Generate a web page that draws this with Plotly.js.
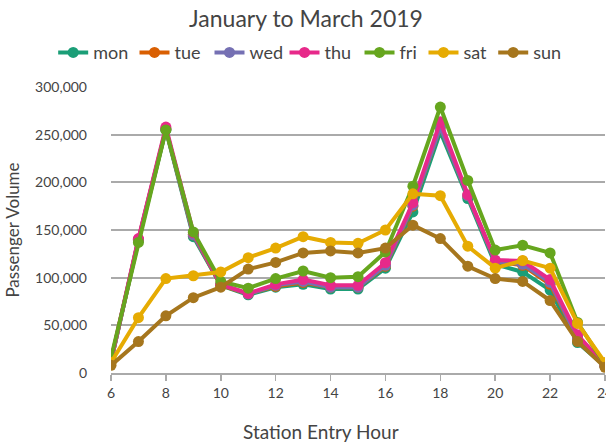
<!DOCTYPE html>
<html>
<head>
<meta charset="utf-8">
<script src="https://cdn.plot.ly/plotly-3.0.1.min.js"></script>
<style>html,body{margin:0;padding:0;background:#fff;}#chart{width:606px;height:444px;}</style>
</head>
<body>
<div id="chart"></div>
<script>
const hours = [6,7,8,9,10,11,12,13,14,15,16,17,18,19,20,21,22,23,24];
const mon = [12000,139000,255000,143000,92000,82000,90000,93000,88000,88000,110000,169000,253000,183000,114000,106000,87000,32000,7000];
const tue = [12000,140000,256000,145000,92000,83000,91000,95000,90000,90000,112000,175000,258000,186000,117000,113000,93000,36000,7000];
const wed = [12000,140000,256000,145000,93000,83000,92000,96000,90000,90000,113000,176000,258000,186000,117000,114000,95000,37000,7000];
const thu = [13000,141000,258000,147000,93000,83500,93000,98000,92000,92000,115700,178600,263600,187000,118500,117500,98000,40000,8000];
const fri = [16000,137000,255000,148000,96000,89000,99000,107000,100000,101000,127000,196000,279000,202000,129000,134000,126000,53000,9000];
const sat = [11000,58000,99000,102000,106000,121000,131000,143000,137000,136000,150000,188000,186000,133000,110000,118000,110000,52000,11000];
const sun = [8000,33000,60000,79000,90000,109000,116000,126000,128000,126000,131000,155000,141000,112000,99000,96000,76000,33000,6000];
const names = ['mon','tue','wed','thu','fri','sat','sun'];
const series = [mon,tue,wed,thu,fri,sat,sun];
const colors = ['#1b9e77','#d95f02','#7570b3','#e7298a','#66a61e','#e6ab02','#a6761d'];
const xTitle = 'Station Entry Hour';

const font = 'Lato, "Open Sans", sans-serif';
const legendKeys = ['legend','legend2','legend3','legend4','legend5','legend6','legend7'];
const legendX = [-0.0653, 0.0917, 0.2365, 0.3813, 0.5261, 0.6496, 0.7842];

const traces = series.map((ys,i)=>({
  x: hours, y: ys, name: names[i], type:'scatter', mode:'lines+markers',
  line:{color:colors[i], width:4},
  marker:{color:colors[i], size:11},
  legend: legendKeys[i]
}));

const layout = {
  width:606, height:444,
  margin:{l:87, r:1, t:87, b:71, autoexpand:false},
  paper_bgcolor:'#fff', plot_bgcolor:'#fff',
  font:{family:font, color:'#444'},
  title:{text:'January to March 2019', x:0.505, xanchor:'center', y:0.958, yanchor:'middle', yref:'container', font:{size:23, color:'#444', family:font}},
  showlegend:true,
  xaxis:{
    domain:[24/518, 1],
    range:[6,24], tickvals:[6,8,10,12,14,16,18,20,22,24], ticktext:['6','8','10','12','14','16','18','20','22','24'],
    showgrid:false, zeroline:false, showline:true, linecolor:'#aaa', linewidth:2,
    ticks:'outside', ticklen:6, tickwidth:1.5, tickcolor:'#aaa', tickangle:0,
    ticklabeloverflow:'allow',
    tickfont:{size:14, color:'#444'}
  },
  yaxis:{
    anchor:'free', position:0,
    range:[0,300000], tickvals:[0,50000,100000,150000,200000,250000,300000],
    ticktext:['0','50,000','100,000','150,000','200,000','250,000','300,000'],
    showgrid:true, gridcolor:'#aaa', gridwidth:2, zeroline:false, showline:false,
    ticks:'',
    tickfont:{size:14, color:'#444'},
    title:{text:'Passenger Volume', font:{size:17, color:'#444'}, standoff:10}
  },
  annotations:[{text:xTitle, xref:'paper', yref:'paper', x:(321-87)/518, y:-(431-373)/286, xanchor:'center', yanchor:'middle', showarrow:false, font:{size:19, color:'#444', family:font}}]
};
legendKeys.forEach((k,i)=>{
  layout[k] = {orientation:'h', x:legendX[i], xanchor:'left', y:1.12, yanchor:'middle', font:{size:18, color:'#444'}, itemwidth:30, bgcolor:'rgba(0,0,0,0)'};
});
Plotly.newPlot('chart', traces, layout, {displayModeBar:false, staticPlot:true});
</script>
</body>
</html>
